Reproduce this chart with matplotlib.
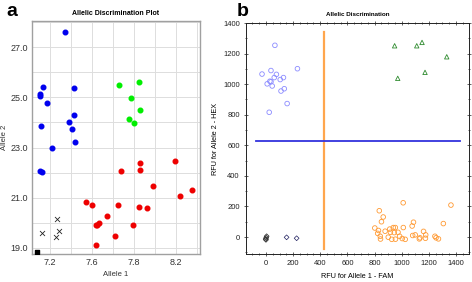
import numpy as np
import matplotlib.pyplot as plt
from matplotlib.ticker import MultipleLocator

plt.rcParams['font.family'] = ['Liberation Sans', 'DejaVu Sans']

# ---------------- panel a : Allelic Discrimination Plot ----------------
a_xtick_pos = [7.2, 7.4, 7.6, 7.8]
a_xtick_labels = ['7.2', '7.6', '7.8', '8.2']
a_yticks = [19.0, 21.0, 23.0, 25.0, 27.0]

a_blue_x = [7.271, 7.165, 7.316, 7.154, 7.154, 7.184, 7.313, 7.289, 7.156, 7.303, 7.321, 7.210, 7.150, 7.162]
a_blue_y = [27.60, 25.43, 25.38, 25.14, 25.05, 24.77, 24.29, 24.00, 23.85, 23.75, 23.24, 22.99, 22.07, 22.01]

a_green_x = [7.530, 7.625, 7.584, 7.629, 7.575, 7.601]
a_green_y = [25.49, 25.62, 24.98, 24.49, 24.12, 23.97]

a_red_x = [7.538, 7.627, 7.627, 7.793, 7.690, 7.820, 7.875, 7.373, 7.400, 7.522,
           7.625, 7.663, 7.473, 7.420, 7.424, 7.433, 7.593, 7.510, 7.420]
a_red_y = [22.05, 22.38, 22.11, 22.46, 21.46, 21.06, 21.31, 20.84, 20.72, 20.73,
           20.63, 20.59, 20.27, 19.92, 19.90, 19.98, 19.92, 19.48, 19.11]

a_ntc_x = [7.232, 7.160, 7.244, 7.227]
a_ntc_y = [20.15, 19.60, 19.68, 19.42]
a_undet_x = [7.137]
a_undet_y = [18.83]

# ---------------- panel b : Allelic Discrimination (RFU) ----------------
b_hex_x = [66, -29, 37, 77, 232, 61, 129, 105, 29, 37, 9, 46, 135, 111, 156, 24]
b_hex_y = [1254, 1066, 1089, 1064, 1101, 1043, 1043, 1030, 1019, 1016, 1002, 988, 970, 955, 873, 816]

b_het_x = [948, 1111, 1150, 1332, 1172, 971]
b_het_y = [1251, 1251, 1273, 1179, 1077, 1038]

b_fam_x = [835, 864, 1011, 1363, 1307, 802, 851, 829, 878, 823, 842, 844, 912, 938, 953,
           917, 945, 973, 901, 927, 954, 985, 1012, 1004, 1026, 1077, 1087, 1081, 1100,
           1130, 1135, 1161, 1177, 1175, 1245, 1253, 1271]
b_fam_y = [172, 131, 224, 209, 88, 59, 100, 43, 38, 24, 5, -13, 52, 62, 62,
           31, 29, 31, -1, -15, -14, 5, 62, -10, -15, 72, 97, 10, 14,
           -12, -5, 37, 14, -8, 5, -5, -12]

b_ntc_x = [-2, 5, 2, 0]
b_ntc_y = [-13, 5, -5, -18]
b_und_x = [152, 226]
b_und_y = [-2, -8]

b_cut_x = 425
b_cut_y = 630

fig = plt.figure(figsize=(4.72, 2.82), dpi=100)

# panel a
ax = fig.add_axes([32 / 472, 1 - 254 / 282, 168 / 472, 233 / 282])
ax.scatter(a_blue_x, a_blue_y, s=11, color='#0000ee', zorder=3)
ax.scatter(a_green_x, a_green_y, s=11, color='#00ee00', zorder=3)
ax.scatter(a_red_x, a_red_y, s=11, color='#ee0000', zorder=3)
ax.scatter(a_ntc_x, a_ntc_y, s=13, marker='x', color='#222222', linewidths=0.6, zorder=3)
ax.scatter(a_undet_x, a_undet_y, s=6, marker='s', color='black', zorder=3)
ax.set_xlim(7.114, 7.914)
ax.set_ylim(18.76, 28.04)
ax.xaxis.set_minor_locator(MultipleLocator(0.1))
ax.yaxis.set_minor_locator(MultipleLocator(1.0))
ax.set_xticks(a_xtick_pos)
ax.set_xticklabels(a_xtick_labels)
ax.set_yticks(a_yticks)
ax.set_yticklabels(['%.1f' % v for v in a_yticks])
ax.grid(True, which='both', color='#dddddd', linewidth=0.7)
ax.set_axisbelow(True)
ax.tick_params(which='both', length=0, labelsize=6.5, colors='#333333', pad=3)
for s in ax.spines.values():
    s.set_color('#a0a0a0')
    s.set_linewidth(1.0)
ax.set_title('Allelic Discrimination Plot', fontsize=5, fontweight='bold', pad=4)
ax.set_xlabel('Allele 1', fontsize=5.5, color='#333333', labelpad=3)
ax.set_ylabel('Allele 2', fontsize=5.5, color='#333333')
ax.yaxis.set_label_coords(-0.14, 0.5)
fig.text(12 / 472, 1 - 12 / 282, 'a', fontsize=14, fontweight='bold', ha='center', va='center')

# panel b
bx = fig.add_axes([246 / 472, 1 - 254 / 282, 223 / 472, 231 / 282])
bx.scatter(b_hex_x, b_hex_y, s=11, facecolors='none', edgecolors='#8c8cff', linewidths=0.6, zorder=3)
bx.scatter(b_het_x, b_het_y, s=10, marker='^', facecolors='none', edgecolors='#2e8b2e', linewidths=0.6, zorder=3)
bx.scatter(b_fam_x, b_fam_y, s=11, facecolors='none', edgecolors='#ff9a33', linewidths=0.6, zorder=3)
bx.scatter(b_ntc_x, b_ntc_y, s=6, marker='D', facecolors='none', edgecolors='#333333', linewidths=0.6, zorder=3)
bx.scatter(b_und_x, b_und_y, s=6, marker='D', facecolors='none', edgecolors='#202060', linewidths=0.5, zorder=3)
bx.plot([b_cut_x, b_cut_x], [-80, 1340], color='#ffa64d', linewidth=1.6, zorder=2)
bx.plot([-75, 1430], [b_cut_y, b_cut_y], color='#3333dd', linewidth=1.3, zorder=2)
bx.set_xlim(-147, 1496)
bx.set_ylim(-111, 1400)
bx.xaxis.set_major_locator(MultipleLocator(200))
bx.xaxis.set_minor_locator(MultipleLocator(50))
bx.yaxis.set_major_locator(MultipleLocator(200))
bx.yaxis.set_minor_locator(MultipleLocator(100))
bx.tick_params(which='both', direction='inout', top=True, right=True,
               labelsize=5.5, colors='#222222', pad=3, width=0.5)
bx.tick_params(which='major', length=3)
bx.tick_params(which='minor', length=2)
for s in bx.spines.values():
    s.set_color('#222222')
    s.set_linewidth(0.7)
bx.set_title('Allelic Discrimination', fontsize=4.5, fontweight='bold', pad=5)
bx.set_xlabel('RFU for Allele 1 - FAM', fontsize=5.2, labelpad=4)
bx.set_ylabel('RFU for Allele 2 - HEX', fontsize=5.2, labelpad=3)
fig.text(243 / 472, 1 - 12 / 282, 'b', fontsize=14, fontweight='bold', ha='center', va='center')

fig.savefig('out.png', dpi=100)
